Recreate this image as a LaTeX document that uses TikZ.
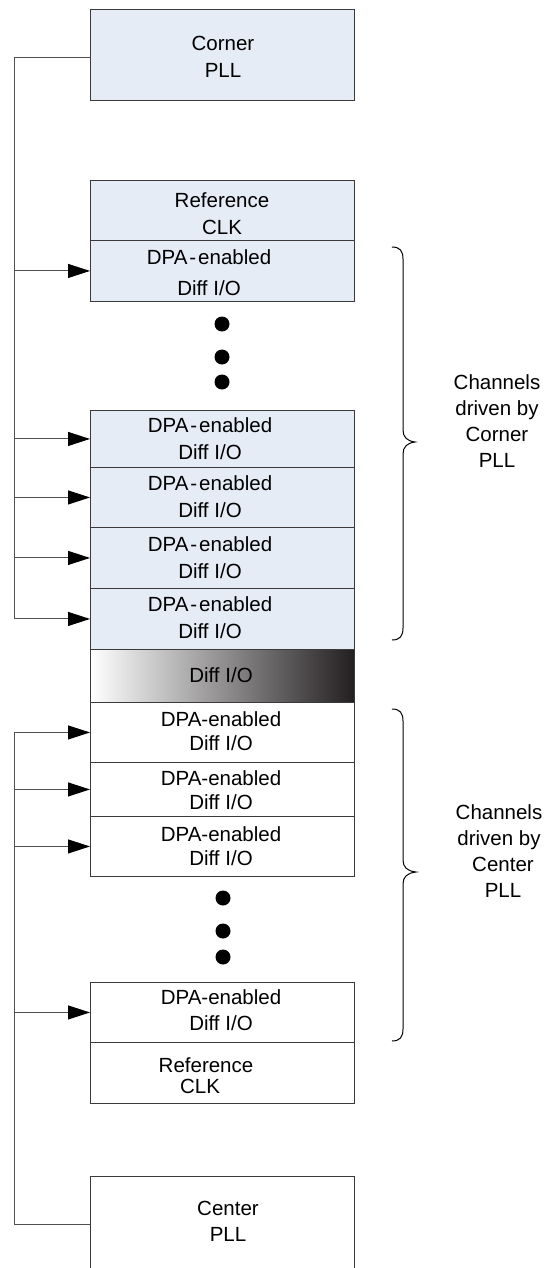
\documentclass[tikz,border=0pt]{standalone}
\usepackage{fontspec}
\setmainfont{Liberation Sans}
\usetikzlibrary{arrows.meta}
\definecolor{boxblue}{HTML}{E6ECF6}
\definecolor{linec}{HTML}{3A3A3A}
\definecolor{connc}{HTML}{505050}
\definecolor{gradend}{HTML}{231F20}
\begin{document}
\begin{tikzpicture}[x=1pt,y=-1pt,
  blk/.style={draw=linec,line width=0.9pt,minimum width=264pt,inner sep=0pt,anchor=north west},
  bluebox/.style={blk,fill=boxblue},
  whitebox/.style={blk,fill=white},
  lbl/.style={align=center,inner sep=0pt,font=\fontsize{20.5}{27}\selectfont},
  lbllow/.style={lbl,font=\fontsize{20.5}{24}\selectfont},
  conn/.style={draw=connc,line width=1pt},
  arr/.style={conn,-{Triangle[length=22pt,width=14pt,color=black]}},
  brace/.style={draw=black,line width=1pt},
  dot/.style={circle,fill=black,inner sep=0pt,minimum size=15pt}]
\useasboundingbox (0,0) rectangle (544,1268);
\clip (0,0) rectangle (544,1268);

% boxes
\node[bluebox,minimum height=91pt] (corner) at (90,9) {};
\node[bluebox,minimum height=60pt] (refA) at (90,180) {};
\node[bluebox,minimum height=61pt] (dA1) at (90,240) {};
\node[bluebox,minimum height=57pt] (dA2) at (90,410) {};
\node[bluebox,minimum height=60pt] (dA3) at (90,467) {};
\node[bluebox,minimum height=61pt] (dA4) at (90,527) {};
\node[bluebox,minimum height=61pt] (dA5) at (90,588) {};
\node[blk,minimum height=53pt,left color=white,right color=gradend] (grad) at (90,649) {};
\node[whitebox,minimum height=60pt] (dB1) at (90,702) {};
\node[whitebox,minimum height=54pt] (dB2) at (90,762) {};
\node[whitebox,minimum height=60pt] (dB3) at (90,816) {};
\node[whitebox,minimum height=60pt] (dB4) at (90,982) {};
\node[whitebox,minimum height=61pt] (refB) at (90,1042) {};
\node[whitebox,minimum height=96pt] (center) at (90,1176) {};

% labels
\node[lbl] (tcorner) at (223,56.5) {Corner\\PLL};
\node[lbl] (trefA) at (222,213.5) {Reference\\CLK};
\node[lbl,font=\fontsize{20.5}{31}\selectfont] (tdA1) at (209,272.5) {DPA\kern2pt-\kern2pt enabled\\Diff I/O};
\node[lbl] (tdA2) at (210,439) {DPA\kern2pt-\kern2pt enabled\\Diff I/O};
\node[lbl] (tdA3) at (210,497) {DPA\kern2pt-\kern2pt enabled\\Diff I/O};
\node[lbl] (tdA4) at (210,557.5) {DPA\kern2pt-\kern2pt enabled\\Diff I/O};
\node[lbl] (tdA5) at (210,617.5) {DPA\kern2pt-\kern2pt enabled\\Diff I/O};
\node[lbl] (tgrad) at (221,675.5) {Diff I/O};
\node[lbllow] (tdB1) at (221,731) {DPA-enabled\\Diff I/O};
\node[lbllow] (tdB2) at (221,790) {DPA-enabled\\Diff I/O};
\node[lbllow] (tdB3) at (221,846) {DPA-enabled\\Diff I/O};
\node[lbl,font=\fontsize{20.5}{26}\selectfont] (tdB4) at (221,1010) {DPA-enabled\\Diff I/O};
\node[lbl,font=\fontsize{20.5}{21}\selectfont] (trefB) at (206,1075.5) {Reference\\CLK\kern12pt};
\node[lbl,font=\fontsize{20.5}{26}\selectfont] (tcenter) at (228,1221) {Center\\PLL};

\node[lbl,font=\fontsize{20.5}{26}\selectfont] (chA) at (497,421) {Channels\\driven by\\Corner\\PLL};
\node[lbl,font=\fontsize{20.5}{26}\selectfont] (chB) at (499,851) {Channels\\driven by\\\kern8pt Center\\\kern8pt PLL};

% dots
\node[dot] (pA1) at (222,324) {};
\node[dot] (pA2) at (222,357) {};
\node[dot] (pA3) at (222,382) {};
\node[dot] (pB1) at (223,898) {};
\node[dot] (pB2) at (223,931) {};
\node[dot] (pB3) at (223,957) {};

% connectors, upper (Corner PLL)
\path (corner.west) ++(0,2.5) ++(-76,0) coordinate (trunkA);
\draw[conn] (corner.west |- trunkA) -- (trunkA);
\draw[arr] (trunkA) |- (dA5.west);
\draw[arr] (trunkA |- dA1.west) -- (dA1.west);
\draw[arr] (trunkA |- dA2.west) -- (dA2.west);
\draw[arr] (trunkA |- dA3.west) -- (dA3.west);
\draw[arr] (trunkA |- dA4.west) -- (dA4.west);

% connectors, lower (Center PLL)
\path (center.west) ++(-76,0) coordinate (trunkB);
\draw[conn] (center.west) -- (trunkB);
\draw[arr] (trunkB) |- (dB1.west);
\draw[arr] (trunkB |- dB2.west) -- (dB2.west);
\draw[arr] (trunkB |- dB3.west) -- (dB3.west);
\draw[arr] (trunkB |- dB4.west) -- (dB4.west);

% braces
\draw[brace] (392,247) .. controls (400,247) and (403,251) .. (403,259) -- (403,430)
  .. controls (403,437) and (407,441) .. (415,442)
  .. controls (407,443) and (403,447) .. (403,454) -- (403,628)
  .. controls (403,636) and (400,640) .. (392,640);
\draw[brace] (392,709) .. controls (400,709) and (403,713) .. (403,721) -- (403,860)
  .. controls (403,867) and (407,871) .. (416,872)
  .. controls (407,873) and (403,877) .. (403,884) -- (403,1029)
  .. controls (403,1037) and (400,1041) .. (392,1041);
\end{tikzpicture}
\end{document}
